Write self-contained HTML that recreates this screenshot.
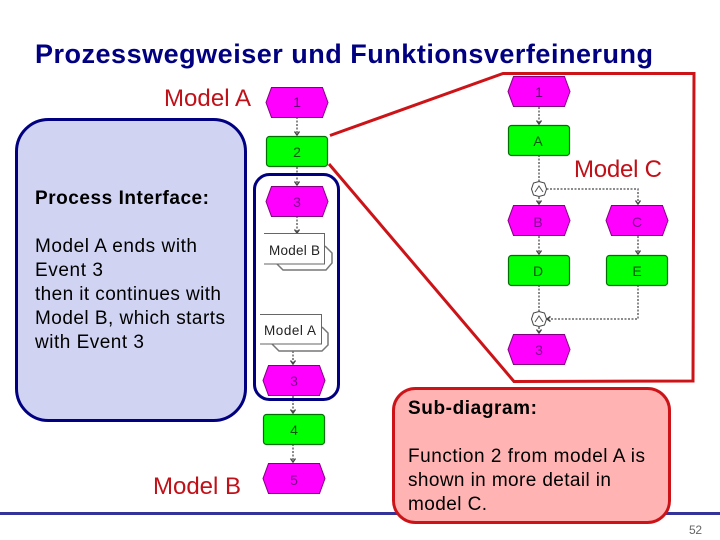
<!DOCTYPE html>
<html><head><meta charset="utf-8">
<style>html,body{margin:0;padding:0;background:#fff}svg{display:block}text{font-family:"Liberation Sans",sans-serif}</style>
</head><body>
<svg width="720" height="540" viewBox="0 0 720 540" xmlns="http://www.w3.org/2000/svg">
<defs>
<g id="h"><polygon points="5.5,0.5 56.5,0.5 62,15.5 56.5,30.5 5.5,30.5 0,15.5" fill="#ff00ff" stroke="#800080" stroke-width="1"/></g>
<g id="r"><rect x="0.5" y="0.5" width="61" height="30" rx="3" fill="#00ff00" stroke="#007000" stroke-width="1.2"/></g>
<g id="c"><polygon points="0,-7.5 5.5,-6 7.5,0 5.5,6 0,7.5 -5.5,6 -7.5,0 -5.5,-6" fill="#fff" stroke="#444" stroke-width="1"/><path d="M-4,3L0,-3L4,3" fill="none" stroke="#555" stroke-width="1"/></g>
<path id="a" d="M-2.5,-3.5L0,0L2.5,-3.5" fill="none" stroke="#444" stroke-width="1.4"/>
</defs>

<line x1="0" y1="513.5" x2="720" y2="513.5" stroke="#333399" stroke-width="3"/>
<text x="35" y="63" font-size="27" font-weight="bold" fill="#000080" textLength="618" lengthAdjust="spacing">Prozesswegweiser und Funktionsverfeinerung</text>

<rect x="16.5" y="119.5" width="229" height="301" rx="32" fill="#d0d4f2" stroke="#000080" stroke-width="3"/>
<g font-size="19" fill="#000">
<text x="35" y="204" font-weight="bold" textLength="174" lengthAdjust="spacing">Process Interface:</text>
<text x="35" y="252" textLength="162" lengthAdjust="spacing">Model A ends with</text>
<text x="35" y="276" textLength="68" lengthAdjust="spacing">Event 3</text>
<text x="35" y="300" textLength="186" lengthAdjust="spacing">then it continues with</text>
<text x="35" y="324" textLength="190" lengthAdjust="spacing">Model B, which starts</text>
<text x="35" y="348" textLength="109" lengthAdjust="spacing">with Event 3</text>
</g>
<g font-size="24" fill="#c01018">
<text x="164" y="106" textLength="87" lengthAdjust="spacing">Model A</text>
<text x="153" y="494" textLength="88" lengthAdjust="spacing">Model B</text>
<text x="574" y="177" textLength="88" lengthAdjust="spacing">Model C</text>
</g>

<!-- connectors model A/B -->
<g stroke="#666" stroke-width="1.5" stroke-dasharray="2 1.5" fill="none">
<line x1="297" y1="117" x2="297" y2="135"/>
<line x1="297" y1="167" x2="297" y2="185"/>
<line x1="297" y1="216" x2="297" y2="232"/>
<line x1="293" y1="351" x2="293" y2="364"/>
<line x1="293" y1="396" x2="293" y2="413"/>
<line x1="293" y1="444" x2="293" y2="462"/>
<line x1="539" y1="107" x2="539" y2="124"/>
<line x1="539" y1="155" x2="539" y2="181"/>
<path d="M546.5,189H638V204"/>
<line x1="539" y1="197" x2="539" y2="204"/>
<line x1="539" y1="236" x2="539" y2="254"/>
<line x1="638" y1="236" x2="638" y2="254"/>
<line x1="539" y1="285" x2="539" y2="311"/>
<path d="M638,285V319H548"/>
<line x1="539" y1="327" x2="539" y2="333"/>
</g>
<use href="#a" transform="translate(297,135)"/><use href="#a" transform="translate(297,185)"/><use href="#a" transform="translate(297,233)"/>
<use href="#a" transform="translate(293,364)"/><use href="#a" transform="translate(293,413)"/><use href="#a" transform="translate(293,462)"/>
<use href="#a" transform="translate(539,124)"/><use href="#a" transform="translate(539,204)"/><use href="#a" transform="translate(638,204)"/>
<use href="#a" transform="translate(539,254)"/><use href="#a" transform="translate(638,254)"/><use href="#a" transform="translate(539,333)"/>
<use href="#a" transform="translate(547,319) rotate(90)"/>

<!-- left column nodes -->
<use href="#h" transform="translate(266,87)"/>
<use href="#r" transform="translate(266,136)"/>
<use href="#h" transform="translate(266,186)"/>
<use href="#h" transform="translate(263,365)"/>
<use href="#r" transform="translate(263,414)"/>
<use href="#h" transform="translate(263,463)"/>

<!-- process boxes -->
<path d="M325,246L332,253V263L326,270H283L277,264" fill="#fff" stroke="#777" stroke-width="1.5"/>
<path d="M264,233.5H324.5V264H264" fill="#fff" stroke="#666" stroke-width="1"/>
<path d="M322,327L328,333V345L322,351H279L272,344" fill="#fff" stroke="#777" stroke-width="1.5"/>
<path d="M260,314.5H321.5V344H260" fill="#fff" stroke="#666" stroke-width="1"/>
<text x="269" y="255" font-size="13.5" fill="#222" textLength="51" lengthAdjust="spacing">Model B</text>
<text x="264" y="335" font-size="13.5" fill="#222" textLength="52" lengthAdjust="spacing">Model A</text>

<g font-size="14" text-anchor="middle">
<text x="297" y="107" fill="#600070">1</text>
<text x="297" y="157" fill="#005800">2</text>
<text x="297" y="207" fill="#800090">3</text>
<text x="294" y="386" fill="#800090">3</text>
<text x="294" y="435" fill="#005800">4</text>
<text x="294" y="485" fill="#800090">5</text>
</g>

<rect x="254.5" y="174.5" width="84" height="225" rx="15" fill="none" stroke="#000080" stroke-width="3"/>

<!-- model C nodes -->
<use href="#h" transform="translate(508,76)"/>
<use href="#r" transform="translate(508,125)"/>
<use href="#c" transform="translate(539,189)"/>
<use href="#h" transform="translate(508,205)"/>
<use href="#h" transform="translate(606,205)"/>
<use href="#r" transform="translate(508,255)"/>
<use href="#r" transform="translate(606,255)"/>
<use href="#c" transform="translate(539,319)"/>
<use href="#h" transform="translate(508,334)"/>
<g font-size="14" text-anchor="middle">
<text x="539" y="97" fill="#600070">1</text>
<text x="538" y="146" fill="#005800">A</text>
<text x="538" y="227" fill="#800090">B</text>
<text x="637" y="227" fill="#800090">C</text>
<text x="538" y="276" fill="#005800">D</text>
<text x="637" y="276" fill="#005800">E</text>
<text x="539" y="355" fill="#800090">3</text>
</g>

<polyline points="330,135.5 503,73.5 694,73.5 693,381 514,381.5 329,164" fill="none" stroke="#cc1418" stroke-width="3"/>

<rect x="393.5" y="388.5" width="276" height="134" rx="22" fill="#ffb3b3" stroke="#cc1418" stroke-width="3"/>
<g font-size="19" fill="#000">
<text x="408" y="414" font-weight="bold" textLength="129" lengthAdjust="spacing">Sub-diagram:</text>
<text x="408" y="462" textLength="237" lengthAdjust="spacing">Function 2 from model A is</text>
<text x="408" y="486" textLength="203" lengthAdjust="spacing">shown in more detail in</text>
<text x="408" y="510" textLength="79" lengthAdjust="spacing">model C.</text>
</g>
<text x="689" y="534" font-size="12" fill="#666" textLength="13" lengthAdjust="spacing">52</text>
</svg>
</body></html>
